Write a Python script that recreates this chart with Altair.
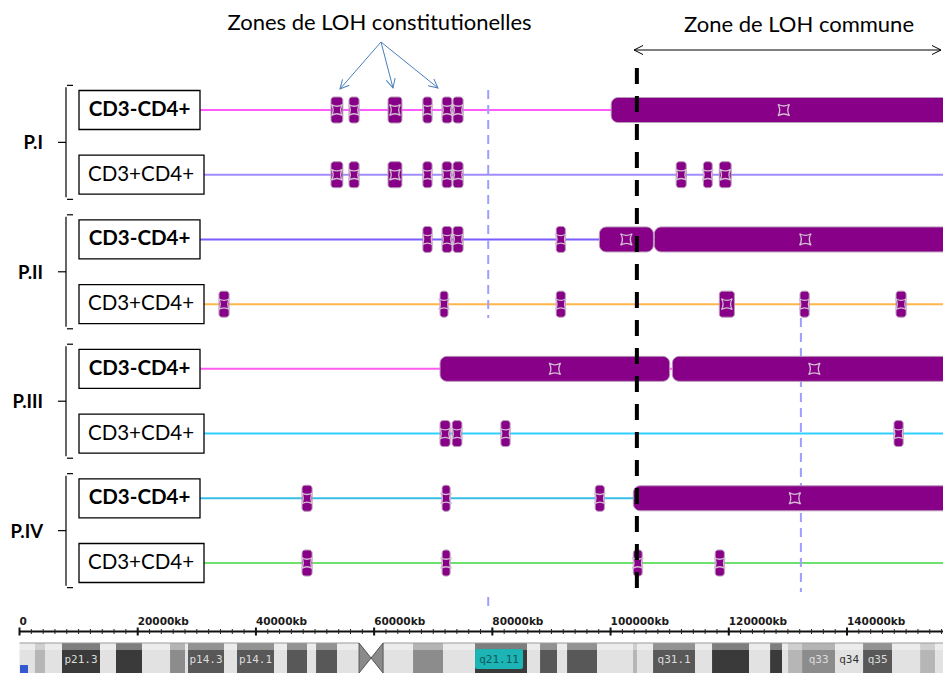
import math
import altair as alt
import pandas as pd

# ---------------- canvas / layout ----------------
W, H = 935, 665
M = 8  # page margin


def px(v):
    return v - M


def py(v):
    return v - M


# ---------------- data ----------------
patients = ["P.I", "P.II", "P.III", "P.IV"]
fractions = ["CD3-CD4+", "CD3+CD4+"]
track_colors = ["#ff5cff", "#a08cff", "#7d5cff", "#ffb54a",
                "#ff5cf2", "#2fd0ff", "#37bde6", "#6de06d"]

# LOH segments (kb) : track index 0..7 (patient x fraction)
seg_track = [0] * 7 + [1] * 9 + [2] * 6 + [3] * 6 + [4] * 2 + [5] * 4 + [6] * 4 + [7] * 4
seg_start = [52700, 55750, 62350, 68250, 71500, 73350, 100100,
             52700, 55750, 62350, 68250, 71500, 73350, 111100, 115700, 118400,
             68250, 71500, 73350, 90800, 98100, 107400,
             33750, 71150, 90800, 118400, 132050, 148300,
             71150, 110450,
             71150, 73200, 81450, 147950,
             47800, 71500, 97400, 103850,
             47800, 71500, 103850, 117700]
seg_end = [54700, 57450, 64700, 69800, 73150, 75050, 158500,
           54700, 57450, 64700, 69800, 73150, 75050, 112800, 117200, 120400,
           69800, 73150, 75050, 92350, 107250, 158500,
           35450, 72500, 92350, 120950, 133600, 150000,
           110000, 158500,
           72850, 74850, 83000, 149500,
           49500, 72850, 98950, 158500,
           49500, 72850, 105350, 119250]

common_loh_start = 104450      # start of the common LOH zone (kb)
cursor_a, cursor_b = 79300, 132200

axis_major = [0, 20000, 40000, 60000, 80000, 100000, 120000, 140000]
axis_labels = ["0", "20000kb", "40000kb", "60000kb", "80000kb",
               "100000kb", "120000kb", "140000kb"]
axis_minor = list(range(0, 156001, 2000))

# chromosome 7 cytobands (kb)
band_start = [0, 2620, 4310, 7190, 13620, 16330, 20730, 25470, 28000, 28510,
              34600, 36800, 43060, 45260, 48650, 50170, 53720, 57450, 61510,
              66580, 71660, 77070, 85870, 88070, 90950, 92640, 97720, 103800,
              104480, 107190, 114300, 117170, 123430, 126990, 129020, 130030,
              132400, 137990, 142720, 147630, 152370, 154910]
band_end = band_start[1:] + [159138]
band_stain = ["gneg", "gpos25", "gneg", "gpos100", "gneg", "gpos100", "gneg",
              "gpos50", "gneg", "gpos75", "gneg", "gpos75", "gneg", "gpos75",
              "gneg", "gpos75", "gneg", "acen", "gneg", "gpos50", "gneg",
              "gpos100", "gneg", "gpos75", "gneg", "gpos75", "gneg", "gpos25",
              "gneg", "gpos75", "gneg", "gpos100", "gneg", "gpos100", "gneg",
              "gpos25", "gpos50", "gneg", "gpos75", "gneg", "gpos25", "gneg"]
band_name = [""] * 42
band_name[3] = "p21.3"
band_name[9] = "p14.3"
band_name[11] = "p14.1"
band_name[21] = "q21.11"
band_name[29] = "q31.1"
band_name[36] = "q33"
band_name[37] = "q34"
band_name[38] = "q35"
highlight_band = "q21.11"

# ---------------- frames ----------------
tracks = pd.DataFrame({
    "idx": list(range(8)),
    "patient": [p for p in patients for f in fractions],
    "fraction": [f for p in patients for f in fractions],
})
tracks["track"] = tracks["patient"] + " " + tracks["fraction"]
pats = pd.DataFrame({"patient": patients, "pidx": list(range(4))})
segs = pd.DataFrame({"idx": seg_track, "start": seg_start, "end": seg_end})
ticks = pd.DataFrame({"tick": axis_major, "label": axis_labels})
minor = pd.DataFrame({"tick": axis_minor})
bands = pd.DataFrame({"start": band_start, "end": band_end,
                      "stain": band_stain, "name": band_name})
one = pd.DataFrame({"k": [0]})

xs = alt.Scale(domain=[-1946, 156242], nice=False, zero=False)
ys = alt.Scale(domain=[0, 7], range=[py(110), py(563)], nice=False, zero=False)


def X(f, **kw):
    return alt.X(f, scale=xs, axis=None, **kw)


def XD(v):
    return alt.X(datum=v, type="quantitative", scale=xs, axis=None)


Y = alt.Y("idx:Q", scale=ys, axis=None)
YP = alt.Y("pos:Q", scale=ys, axis=None)

layers = []

# ---- track lines ----
layers.append(alt.Chart(tracks).mark_rule(strokeWidth=2).encode(
    x=alt.value(px(200)), x2=alt.value(W), y=Y,
    color=alt.Color("track:N", scale=alt.Scale(domain=list(tracks["track"]),
                                               range=track_colors), legend=None)))

# ---- cursor lines (light blue dashed) ----
cur_style = dict(color="#9e9eff", strokeWidth=2, strokeDash=[9, 6])
layers.append(alt.Chart(one).mark_rule(**cur_style).encode(
    x=XD(cursor_a), y=alt.value(py(90)), y2=alt.value(py(318))))
layers.append(alt.Chart(one).mark_rule(**cur_style).encode(
    x=XD(cursor_a), y=alt.value(py(597)), y2=alt.value(py(612))))
layers.append(alt.Chart(one).mark_rule(**cur_style).encode(
    x=XD(cursor_b), y=alt.value(py(318)), y2=alt.value(py(592))))

# ---- LOH segments ----
seg_base = alt.Chart(segs).transform_calculate(
    w="datum.end - datum.start", mid="(datum.start + datum.end) / 2")
seg_enc = dict(x=X("start:Q"), x2="end:Q", y=Y, y2=alt.Y2("idx:Q"))
layers.append(seg_base.transform_filter("datum.w <= 5000").mark_rect(
    color="#880088", stroke="#b79ab7", strokeWidth=1, cornerRadius=3,
    yOffset=-13, y2Offset=13).encode(**seg_enc))
layers.append(seg_base.transform_filter("datum.w > 5000").mark_rect(
    color="#880088", stroke="#b79ab7", strokeWidth=1, cornerRadius=7,
    yOffset=-12.5, y2Offset=12.5).encode(**seg_enc))
star = ("M -1 -1 Q 0 -0.4 1 -1 Q 0.4 0 1 1 Q 0 0.4 -1 1 Q -0.4 0 -1 -1 Z")
layers.append(seg_base.transform_filter("datum.w <= 5000").mark_point(
    shape=star, filled=False, stroke="#d3bcd3", strokeWidth=1.3, size=115,
    opacity=1).encode(x=X("mid:Q"), y=Y))
layers.append(seg_base.transform_filter("datum.w > 5000").mark_point(
    shape=star, filled=False, stroke="#d3bcd3", strokeWidth=1.3, size=130,
    opacity=1).encode(x=X("mid:Q"), y=Y))

# ---- common LOH dashed line ----
layers.append(alt.Chart(one).mark_rule(color="black", strokeWidth=4,
                                       strokeDash=[16, 12]).encode(
    x=XD(common_loh_start), y=alt.value(py(68)), y2=alt.value(py(592))))

# ---- label boxes ----
for frac, right, cx, weight in [("CD3-CD4+", 200, 139.5, "bold"),
                                ("CD3+CD4+", 204, 141, "normal")]:
    base = alt.Chart(tracks).transform_filter(alt.datum.fraction == frac)
    layers.append(base.mark_rect(fill="white", stroke="black", strokeWidth=1.3,
                                 yOffset=-19.5, y2Offset=19.5).encode(
        x=alt.value(px(79)), x2=alt.value(px(right)), y=Y, y2=alt.Y2("idx:Q")))
    layers.append(base.mark_text(font="Lato", fontSize=20.5, fontWeight=weight,
                                 align="center", baseline="middle",
                                 color="black").encode(
        x=alt.value(px(cx)), y=Y, text="fraction:N"))

# ---- patient labels and braces ----
pbase = alt.Chart(pats).transform_calculate(pos="2 * datum.pidx + 0.5")
layers.append(pbase.mark_text(font="Lato", fontSize=18.5, fontWeight="bold",
                              align="right", baseline="middle", color="black",
                              dy=1).encode(
    x=alt.value(px(43)), y=YP, text="patient:N"))
layers.append(pbase.mark_rule(color="black", strokeWidth=1.2,
                              yOffset=-55, y2Offset=55).encode(
    x=alt.value(px(66)), y=YP, y2=alt.Y2("pos:Q")))
for off in (-57, 57):
    layers.append(pbase.mark_rule(color="black", strokeWidth=1.2,
                                  yOffset=off).encode(
        x=alt.value(px(67)), x2=alt.value(px(73)), y=YP))
layers.append(pbase.mark_rule(color="black", strokeWidth=1.2).encode(
    x=alt.value(px(58)), x2=alt.value(px(66)), y=YP))

# ---- chromosome axis ----
layers.append(alt.Chart(one).mark_rule(color="#111", strokeWidth=2).encode(
    x=XD(0), x2=alt.value(W), y=alt.value(py(631.5))))
layers.append(alt.Chart(minor).mark_rule(color="#222", strokeWidth=1).encode(
    x=X("tick:Q"), y=alt.value(py(629)), y2=alt.value(py(634))))
layers.append(alt.Chart(ticks).mark_rule(color="#111", strokeWidth=2).encode(
    x=X("tick:Q"), y=alt.value(py(627.5)), y2=alt.value(py(635.5))))
layers.append(alt.Chart(ticks).mark_text(align="left", baseline="alphabetic",
                                         font="DejaVu Sans", fontWeight="bold",
                                         fontSize=10.5, color="#1a1a1a").encode(
    x=X("tick:Q"), y=alt.value(py(624.5)), text="label:N"))

# ---- ideogram ----
stain_dom = ["gneg", "gpos25", "gpos50", "gpos75", "gpos100", "acen"]
stain_col = ["#e2e2e2", "#b6b6b6", "#8c8c8c", "#585858", "#3a3a3a", "#ffffff"]
layers.append(alt.Chart(bands).mark_rect().encode(
    x=X("start:Q"), x2="end:Q", y=alt.value(py(643)), y2=alt.value(H),
    color=alt.Color("stain:N", scale=alt.Scale(domain=stain_dom, range=stain_col),
                    legend=None)))
layers.append(alt.Chart(bands).transform_filter("datum.stain != 'acen'")
              .mark_rect(color="white", opacity=0.35).encode(
    x=X("start:Q"), x2="end:Q", y=alt.value(py(643)), y2=alt.value(py(650))))
layers.append(alt.Chart(bands).transform_filter("datum.stain != 'acen'")
              .mark_rule(color="#9a9a9a", strokeWidth=1).encode(
    x=X("start:Q"), x2="end:Q", y=alt.value(py(643))))
bowtie = "M -0.8 -1 L 0 0 L -0.8 1 Z M 0.8 -1 L 0 0 L 0.8 1 Z"
layers.append(alt.Chart(bands).transform_filter("datum.stain == 'acen'")
              .transform_calculate(mid="(datum.start + datum.end) / 2")
              .mark_point(shape=bowtie, filled=True, fill="#8a8a8a", stroke="#555",
                          strokeWidth=1, size=900, opacity=1).encode(
    x=X("mid:Q"), y=alt.value(py(658))))
lab = alt.Chart(bands).transform_filter("datum.name != ''").transform_calculate(
    mid="(datum.start + datum.end) / 2")
layers.append(alt.Chart(bands).transform_filter(alt.datum.name == highlight_band)
              .mark_rect(color="#1cb4b4", x2Offset=-4, cornerRadius=2).encode(
    x=X("start:Q"), x2="end:Q", y=alt.value(py(649)), y2=alt.value(py(669))))
layers.append(lab.transform_filter(alt.datum.name != highlight_band).mark_text(
    font="DejaVu Sans Mono", fontSize=11, align="center", baseline="middle").encode(
    x=X("mid:Q"), y=alt.value(py(660)), text="name:N",
    color=alt.condition("datum.stain == 'gneg' || datum.stain == 'gpos25'",
                        alt.value("#333333"), alt.value("#dcdcdc"))))
layers.append(lab.transform_filter(alt.datum.name == highlight_band).mark_text(
    font="DejaVu Sans Mono", fontSize=11, align="center", baseline="middle",
    color="#0b5a5a", dx=-2).encode(
    x=X("mid:Q"), y=alt.value(py(660)), text="name:N"))
layers.append(alt.Chart(one).mark_rect(color="#3558cf").encode(
    x=alt.value(px(20)), x2=alt.value(px(28)), y=alt.value(py(665)), y2=alt.value(H)))

# ---- annotations ----
layers.append(alt.Chart(one).mark_text(text="Zones de LOH constitutionelles",
                                       font="Lato", fontSize=22, align="center",
                                       baseline="alphabetic", color="black").encode(
    x=alt.value(px(379.5)), y=alt.value(py(30))))
layers.append(alt.Chart(one).mark_text(text="Zone de LOH commune", font="Lato",
                                       fontSize=22, align="center",
                                       baseline="alphabetic", color="black").encode(
    x=alt.value(px(799)), y=alt.value(py(32))))

head = "M -0.5 1 L 0 0 L 0.5 1"


def arrow(x1, y1, x2, y2, color, heads):
    out = [alt.Chart(one).mark_rule(color=color, strokeWidth=1).encode(
        x=alt.value(px(x1)), y=alt.value(py(y1)),
        x2=alt.value(px(x2)), y2=alt.value(py(y2)))]
    for (hx, hy, dx, dy) in heads:
        ang = math.degrees(math.atan2(dx, -dy)) % 360
        out.append(alt.Chart(one).mark_point(shape=head, filled=False,
                                             stroke=color, strokeWidth=1,
                                             size=324, angle=ang, opacity=1)
                   .encode(x=alt.value(px(hx)), y=alt.value(py(hy))))
    return out


for tx, ty in [(340, 89), (393, 88), (438, 88)]:
    layers += arrow(381, 42, tx, ty, "#4a7ebb", [(tx, ty, tx - 381, ty - 42)])
layers += arrow(634, 50, W + M - 2, 50, "black",
                [(634, 50, -1, 0), (W + M - 2, 50, 1, 0)])

chart = alt.layer(*layers).resolve_scale(color="independent").properties(
    width=W, height=H, padding=0,
    autosize=alt.AutoSizeParams(type="none"),
).configure_view(stroke=None)

chart.save("out.html", embed_options={"renderer": "svg", "actions": False})
